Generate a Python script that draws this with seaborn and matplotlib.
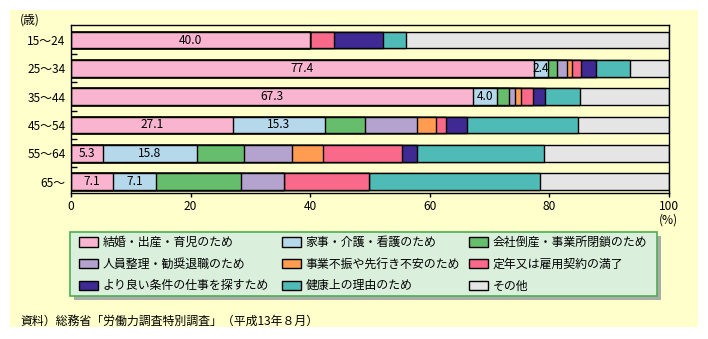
import matplotlib
matplotlib.use("Agg")
import matplotlib.pyplot as plt
import seaborn as sns
import pandas as pd
import numpy as np
from matplotlib.patches import Rectangle, Patch

# ---------------- data ----------------
age_groups = ["15～24", "25～34", "35～44", "45～54", "55～64", "65～"]
reason_labels = [
    "結婚・出産・育児のため",
    "家事・介護・看護のため",
    "会社倒産・事業所閉鎖のため",
    "人員整理・勧奨退職のため",
    "事業不振や先行き不安のため",
    "定年又は雇用契約の満了",
    "より良い条件の仕事を探すため",
    "健康上の理由のため",
    "その他",
]
marriage = [40.0, 77.4, 67.3, 27.1, 5.3, 7.1]
housework = [0.0, 2.4, 4.0, 15.3, 15.8, 7.1]
bankruptcy = [0.0, 1.5, 2.0, 6.8, 7.9, 14.3]
downsizing = [0.0, 1.7, 1.0, 8.6, 7.9, 7.2]
business_slump = [0.0, 0.8, 1.0, 3.3, 5.3, 0.0]
retirement = [4.0, 1.5, 2.0, 1.6, 13.2, 14.2]
better_job = [8.1, 2.5, 2.0, 3.6, 2.5, 0.0]
health = [3.9, 5.6, 5.9, 18.5, 21.2, 28.6]
other = [44.0, 6.6, 14.8, 15.2, 20.9, 21.5]
x_ticks = [0, 20, 40, 60, 80, 100]

colors = ["#F9B5CF", "#B5D8EB", "#66BE6C", "#B3A3CE", "#FF9C52",
          "#F9698A", "#3E2A92", "#4FBBB6", "#E5E5E5"]
CREAM = "#FFFFCC"

series = [marriage, housework, bankruptcy, downsizing, business_slump,
          retirement, better_job, health, other]
df = pd.DataFrame({"age": age_groups})
for lab, vals in zip(reason_labels, series):
    df[lab] = vals
cum = df[reason_labels].cumsum(axis=1)

# ---------------- figure ----------------
plt.rcParams["font.family"] = ["Noto Sans CJK JP", "DejaVu Sans"]
FS = 8.6
W, H = 708, 339
fig = plt.figure(figsize=(W / 100, H / 100), dpi=100)
fig.patch.set_facecolor("white")


def fx(px):
    return px / W


def fy(py):
    return 1 - py / H


fig.add_artist(Rectangle((fx(10), fy(327)), (698 - 10) / W, (327 - 10) / H,
                         transform=fig.transFigure, facecolor=CREAM,
                         edgecolor="none", zorder=-10))

ax = fig.add_axes([fx(71), fy(193), (669 - 71) / W, (193 - 25) / H])
ax.set_facecolor(CREAM)

for i in reversed(range(len(reason_labels))):
    sns.barplot(data=pd.DataFrame({"age": age_groups, "v": cum[reason_labels[i]]}),
                x="v", y="age", orient="h", color=colors[i], saturation=1,
                edgecolor="black", linewidth=1.0, width=0.59, ax=ax,
                errorbar=None)

# value labels for first two series
for j, lab in enumerate(reason_labels[:2]):
    start = cum[lab] - df[lab]
    for k in range(len(age_groups)):
        v = df[lab].iloc[k]
        if v > 0:
            ax.text(start.iloc[k] + v / 2, k, f"{v:.1f}", ha="center",
                    va="center", fontsize=FS, color="black")

ax.set_xlim(0, 100)
ax.set_xticks(x_ticks)
ax.set_xticklabels([str(t) for t in x_ticks], fontsize=FS)
ax.set_ylim(5.406, -0.53)
ax.set_xlabel("")
ax.set_ylabel("")
ax.set_yticks(range(len(age_groups)))
ax.set_yticklabels(age_groups, fontsize=FS)
ax.set_yticks(np.arange(0.5, 5.0, 1.0), minor=True)
ax.tick_params(axis="y", which="major", length=0, pad=4)
ax.tick_params(axis="y", which="minor", direction="in", length=4, width=1,
               color="black")
ax.tick_params(axis="x", direction="out", length=3, width=1, pad=2,
               color="black")
for s in ax.spines.values():
    s.set_visible(True)
    s.set_color("black")
    s.set_linewidth(1.0)
ax.grid(False)

fig.text(fx(30), fy(20), "(歳)", ha="center", va="center", fontsize=FS)
fig.text(fx(668), fy(220), "(%)", ha="center", va="center", fontsize=FS)
fig.text(fx(20), fy(321), "資料）総務省「労働力調査特別調査」（平成13年８月）",
         ha="left", va="center", fontsize=FS)

# ---------------- legend ----------------
fig.add_artist(Rectangle((fx(74), fy(300)), (661 - 74) / W, (300 - 236) / H,
                         transform=fig.transFigure, facecolor="#ABABAB",
                         edgecolor="none", zorder=1))
fig.add_artist(Rectangle((fx(70), fy(296)), (657 - 70) / W, (296 - 232) / H,
                         transform=fig.transFigure, facecolor="#DAF0DC",
                         edgecolor="#4CAF50", linewidth=1.2, zorder=2))

handles = [Patch(facecolor=c, edgecolor="black", linewidth=1.0) for c in colors]
col_x = [79, 282, 469]
for c in range(3):
    idx = [r * 3 + c for r in range(3)]
    leg = fig.legend([handles[i] for i in idx], [reason_labels[i] for i in idx],
                     loc="upper left", bbox_to_anchor=(fx(col_x[c]), fy(236)),
                     bbox_transform=fig.transFigure, frameon=False,
                     fontsize=FS, handlelength=1.6, handleheight=0.85,
                     handletextpad=0.4, labelspacing=0.73, borderpad=0,
                     borderaxespad=0)
    leg.set_zorder(5)

fig.savefig("out.png", dpi=100)
